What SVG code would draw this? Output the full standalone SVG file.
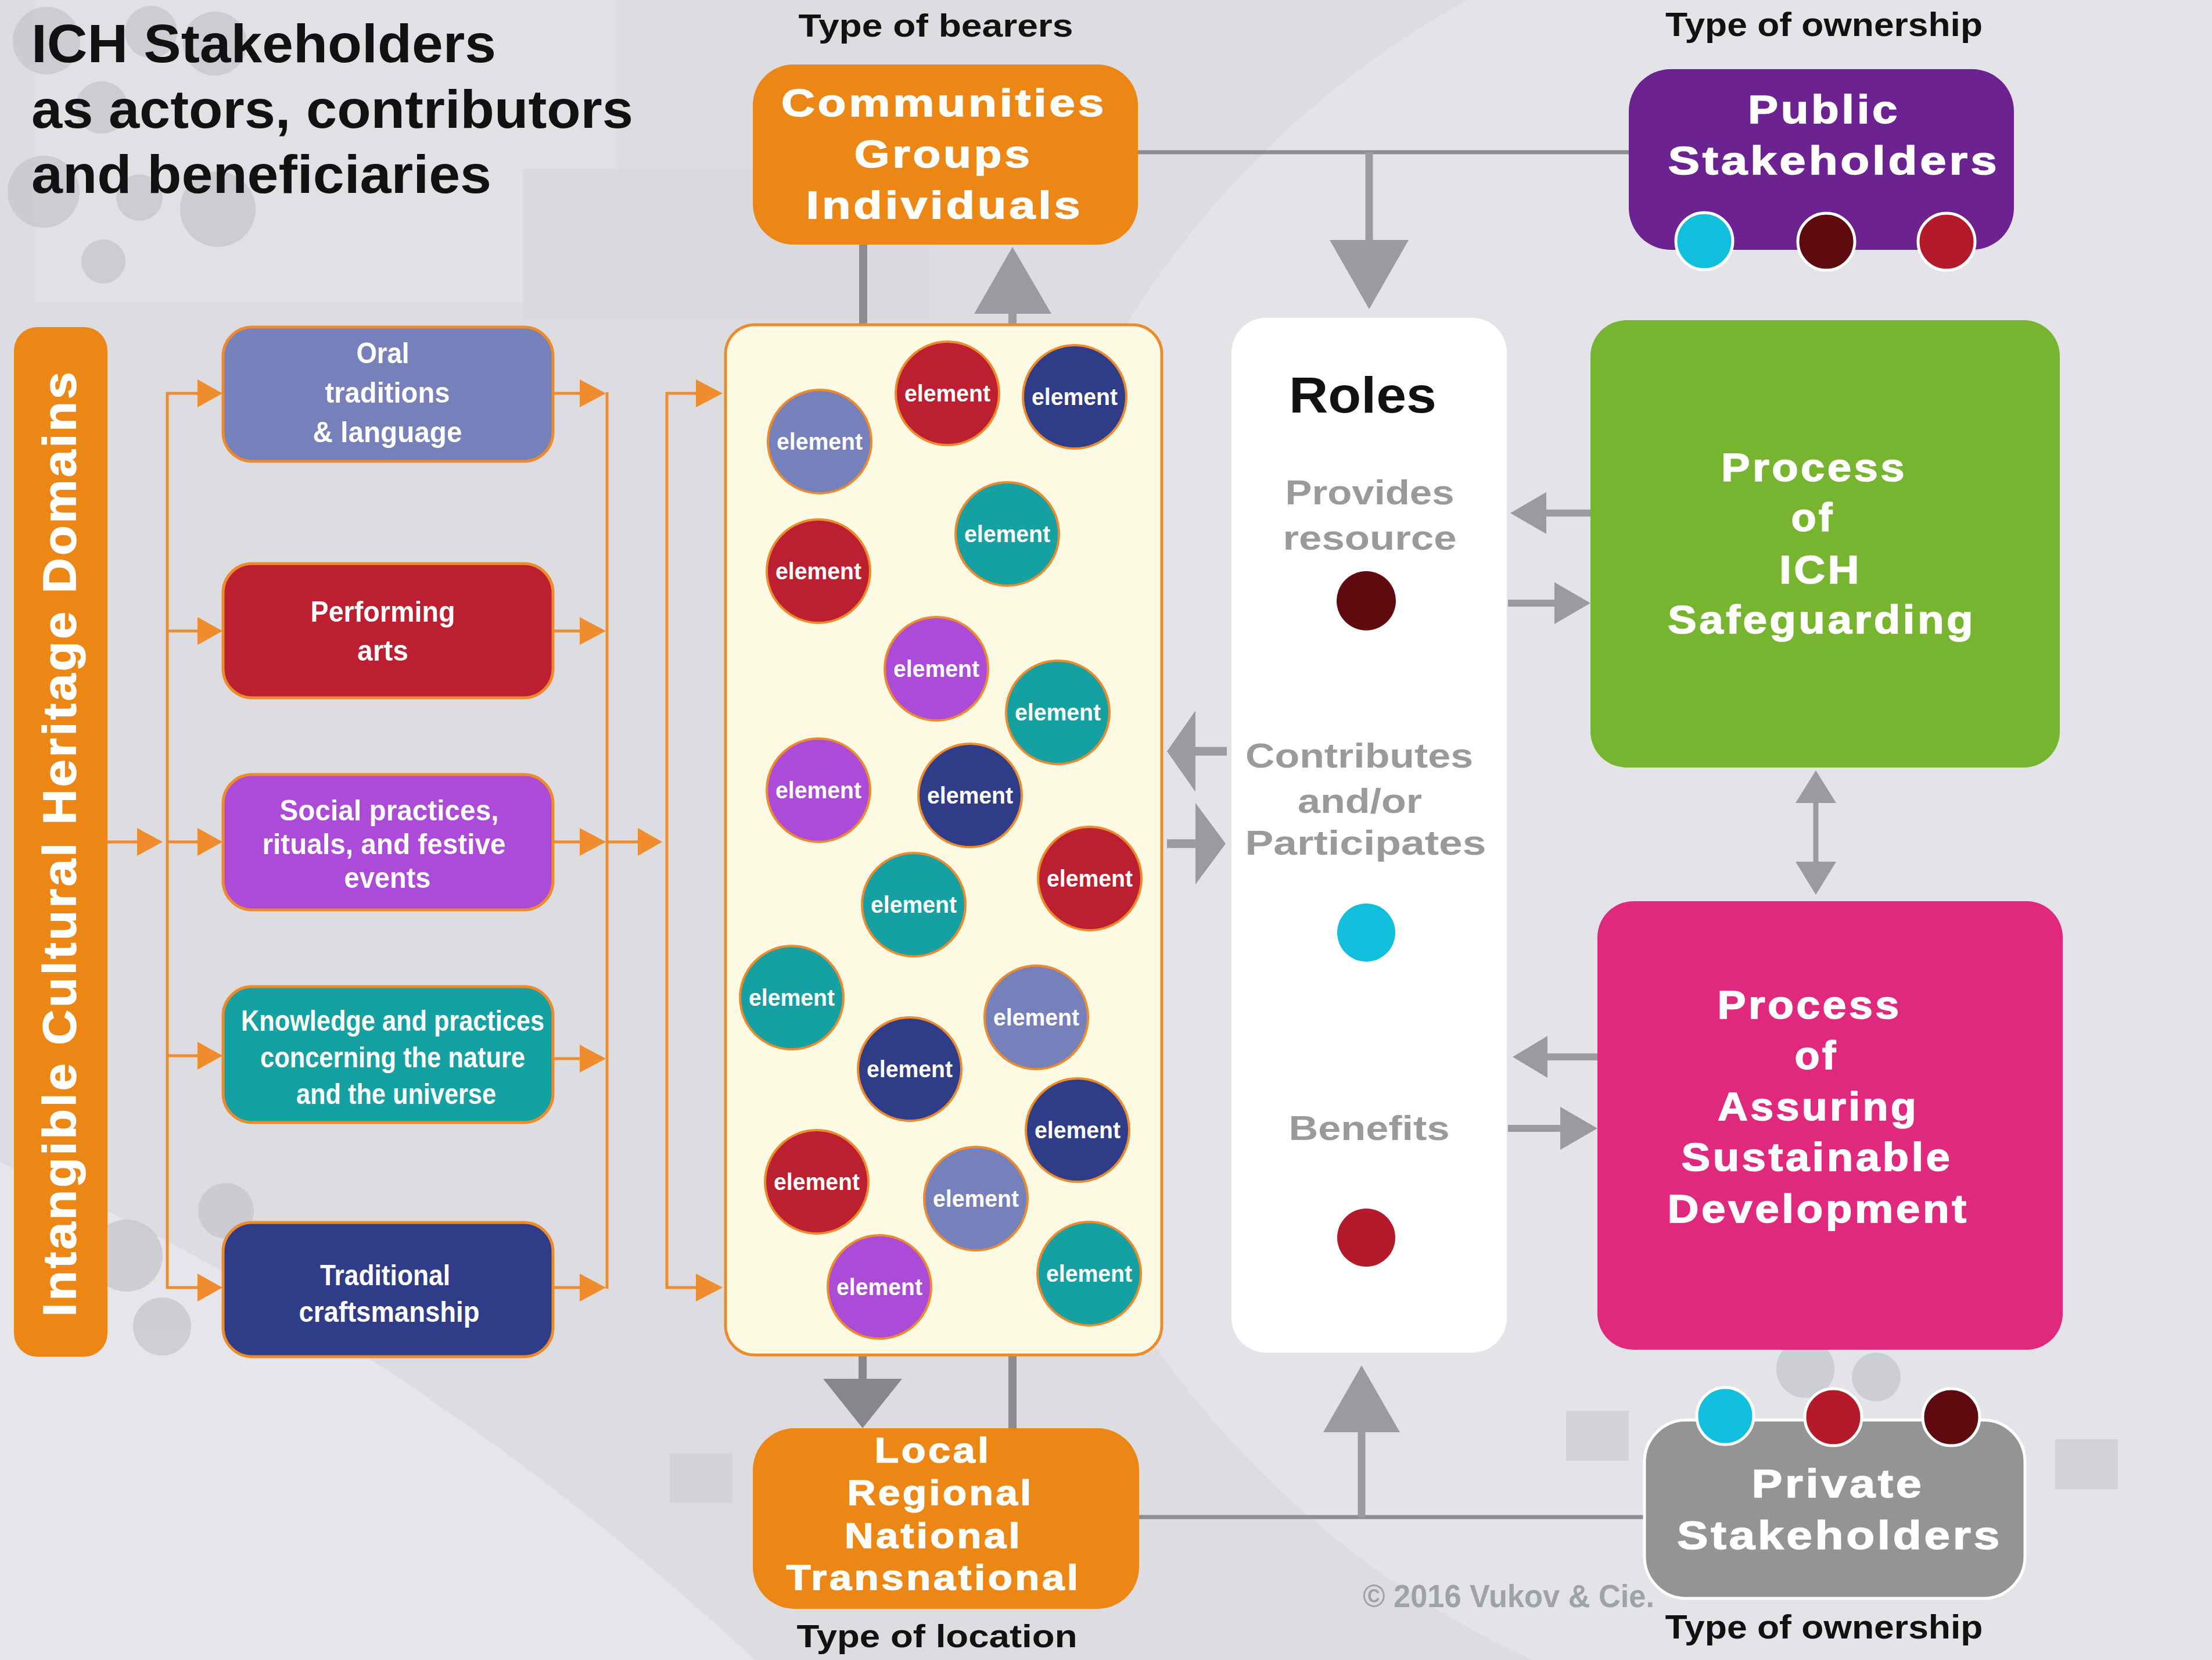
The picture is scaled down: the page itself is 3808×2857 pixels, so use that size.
<svg xmlns="http://www.w3.org/2000/svg" width="3808" height="2857" viewBox="0 0 3808 2857">
<style>
.cond{font-family:"Liberation Sans Narrow","Liberation Sans",Arial,sans-serif;font-weight:bold}
.wide{font-family:"Liberation Sans",Arial,sans-serif;font-weight:bold}
.big{font-family:"Liberation Sans",Arial,sans-serif;font-weight:bold;letter-spacing:4px;stroke:#ffffff;stroke-width:1.5px}
.wt{fill:#ffffff}
.blk{fill:#111111}
.gt{fill:#9a9a9a}
.dom{stroke:#ef8a2a;stroke-width:5}
.ol{stroke:#ef8d2e;stroke-width:5;fill:none}
.oh{fill:#ef8d2e}
.gl{stroke:#9b9b9f;fill:none}
.gh{fill:#9b9b9f}
.el circle{stroke:#ee8a2c;stroke-width:4}
.el text{font-family:"Liberation Sans",Arial,sans-serif;font-weight:bold;font-size:40px;fill:#ffffff;text-anchor:middle}
.dot{stroke:#ffffff;stroke-width:5}
</style>
<g id="background">
<rect x="0" y="0" width="3808" height="2857" fill="#dddde1"/>
<circle cx="3300" cy="1400" r="1600" fill="#e4e4e8"/>
<path d="M0 2000 Q700 2300 1300 2857 L0 2857 Z" fill="#e6e6ea"/>
<rect x="60" y="0" width="1000" height="520" fill="#e3e3e7" opacity="0.6"/>
<rect x="900" y="290" width="700" height="260" fill="#d9d9dd" opacity="0.7"/>
<g fill="#c5c7cd" opacity="0.75">
<circle cx="80" cy="70" r="58"/>
<circle cx="260" cy="55" r="45"/>
<circle cx="370" cy="75" r="55"/>
<circle cx="175" cy="185" r="45"/>
<circle cx="75" cy="330" r="62"/>
<circle cx="375" cy="360" r="65"/>
<circle cx="178" cy="450" r="38"/>
<circle cx="240" cy="340" r="40"/>
<circle cx="389" cy="2084" r="48"/>
<circle cx="218" cy="2161" r="62"/>
<circle cx="279" cy="2283" r="50"/>
<circle cx="3108" cy="2356" r="50"/>
<circle cx="3230" cy="2370" r="42"/>
</g>
<g fill="#d3d2d6">
<rect x="2696" y="2428" width="108" height="86"/>
<rect x="3538" y="2477" width="108" height="86"/>
<rect x="1153" y="2501" width="108" height="86"/>
</g>
</g>

<g id="title">
<text class="wide blk" font-size="92" x="54" y="107" textLength="800" lengthAdjust="spacingAndGlyphs">ICH Stakeholders</text>
<text class="wide blk" font-size="92" x="54" y="220" textLength="1036" lengthAdjust="spacingAndGlyphs">as actors, contributors</text>
<text class="wide blk" font-size="92" x="54" y="332" textLength="792" lengthAdjust="spacingAndGlyphs">and beneficiaries</text>
</g>

<g id="connectors">
<line class="ol" x1="184" y1="1449" x2="240" y2="1449"/>
<polygon class="oh" points="236,1425 280,1449 236,1473"/>
<line class="ol" x1="288" y1="675" x2="288" y2="2218"/>
<line class="ol" x1="286" y1="677" x2="342" y2="677"/>
<polygon class="oh" points="340,653 383,677 340,701"/>
<line class="ol" x1="288" y1="1086" x2="342" y2="1086"/>
<polygon class="oh" points="340,1062 383,1086 340,1110"/>
<line class="ol" x1="288" y1="1449" x2="342" y2="1449"/>
<polygon class="oh" points="340,1425 383,1449 340,1473"/>
<line class="ol" x1="288" y1="1817" x2="342" y2="1817"/>
<polygon class="oh" points="340,1793 383,1817 340,1841"/>
<line class="ol" x1="286" y1="2216" x2="342" y2="2216"/>
<polygon class="oh" points="340,2192 383,2216 340,2240"/>

<line class="ol" x1="1045" y1="675" x2="1045" y2="2218"/>
<line class="ol" x1="952" y1="677" x2="1000" y2="677"/>
<polygon class="oh" points="998,653 1043,677 998,701"/>
<line class="ol" x1="952" y1="1086" x2="1000" y2="1086"/>
<polygon class="oh" points="998,1062 1043,1086 998,1110"/>
<line class="ol" x1="952" y1="1449" x2="1000" y2="1449"/>
<polygon class="oh" points="998,1425 1043,1449 998,1473"/>
<line class="ol" x1="952" y1="1822" x2="1000" y2="1822"/>
<polygon class="oh" points="998,1798 1043,1822 998,1846"/>
<line class="ol" x1="952" y1="2216" x2="1000" y2="2216"/>
<polygon class="oh" points="998,2192 1043,2216 998,2240"/>

<line class="ol" x1="1045" y1="1449" x2="1100" y2="1449"/>
<polygon class="oh" points="1098,1425 1140,1449 1098,1473"/>
<line class="ol" x1="1148" y1="675" x2="1148" y2="2218"/>
<line class="ol" x1="1146" y1="677" x2="1200" y2="677"/>
<polygon class="oh" points="1198,653 1244,677 1198,701"/>
<line class="ol" x1="1146" y1="2216" x2="1200" y2="2216"/>
<polygon class="oh" points="1198,2192 1244,2216 1198,2240"/>

<line x1="1486" y1="421" x2="1486" y2="559" stroke="#8c8c90" stroke-width="14"/>
<line class="gl" x1="1743" y1="559" x2="1743" y2="536" stroke-width="14"/>
<polygon class="gh" points="1677,540 1743,425 1810,540"/>
<line x1="1959" y1="262" x2="2805" y2="262" stroke="#8e8e92" stroke-width="7"/>
<line class="gl" x1="2357" y1="262" x2="2357" y2="416" stroke-width="13"/>
<polygon class="gh" points="2289,413 2357,532 2425,413"/>

<line class="gl" x1="2112" y1="1293" x2="2056" y2="1293" stroke-width="15"/>
<polygon class="gh" points="2058,1223 2009,1293 2058,1363"/>
<line class="gl" x1="2009" y1="1452" x2="2060" y2="1452" stroke-width="15"/>
<polygon class="gh" points="2058,1382 2110,1452 2058,1522"/>

<line class="gl" x1="2738" y1="883" x2="2660" y2="883" stroke-width="12"/>
<polygon class="gh" points="2662,847 2600,883 2662,919"/>
<line class="gl" x1="2596" y1="1038" x2="2678" y2="1038" stroke-width="12"/>
<polygon class="gh" points="2676,1002 2738,1038 2676,1074"/>

<line class="gl" x1="3126" y1="1378" x2="3126" y2="1486" stroke-width="9"/>
<polygon class="gh" points="3091,1382 3126,1326 3161,1382"/>
<polygon class="gh" points="3091,1483 3126,1540 3161,1483"/>

<line class="gl" x1="2750" y1="1819" x2="2662" y2="1819" stroke-width="12"/>
<polygon class="gh" points="2664,1783 2604,1819 2664,1855"/>
<line class="gl" x1="2596" y1="1942" x2="2690" y2="1942" stroke-width="12"/>
<polygon class="gh" points="2686,1905 2750,1942 2686,1979"/>

<line x1="1485" y1="2332" x2="1485" y2="2376" stroke="#86868b" stroke-width="14"/>
<polygon fill="#86868b" points="1417,2373 1485,2458 1553,2373"/>
<line x1="1743" y1="2332" x2="1743" y2="2458" stroke="#8c8c90" stroke-width="14"/>
<line x1="1961" y1="2611" x2="2831" y2="2611" stroke="#8e8e92" stroke-width="7"/>
<line class="gl" x1="2344" y1="2611" x2="2344" y2="2462" stroke-width="13"/>
<polygon class="gh" points="2278,2465 2344,2350 2410,2465"/>
</g>

<g id="domains-bar">
<rect x="24" y="563" width="161" height="1772" rx="40" fill="#ec8614"/>
<text class="big wt" font-size="80" transform="translate(130,1451) rotate(-90)" text-anchor="middle" textLength="1630" lengthAdjust="spacingAndGlyphs">Intangible Cultural Heritage Domains</text>
</g>

<g id="oral">
<rect class="dom" x="384" y="563" width="568" height="231" rx="50" fill="#7680ba"/>
<g class="cond wt" font-size="50" text-anchor="middle">
<text x="659" y="625" textLength="91" lengthAdjust="spacingAndGlyphs">Oral</text>
<text x="667" y="693" textLength="215" lengthAdjust="spacingAndGlyphs">traditions</text>
<text x="667" y="761" textLength="257" lengthAdjust="spacingAndGlyphs">&amp; language</text>
</g>
</g>
<g id="performing">
<rect class="dom" x="384" y="970" width="568" height="231" rx="50" fill="#bc1f2f"/>
<g class="cond wt" font-size="50" text-anchor="middle">
<text x="659" y="1070" textLength="249" lengthAdjust="spacingAndGlyphs">Performing</text>
<text x="659" y="1137" textLength="88" lengthAdjust="spacingAndGlyphs">arts</text>
</g>
</g>
<g id="social">
<rect class="dom" x="384" y="1333" width="568" height="233" rx="50" fill="#ab4bd8"/>
<g class="cond wt" font-size="50" text-anchor="middle">
<text x="670" y="1412" textLength="377" lengthAdjust="spacingAndGlyphs">Social practices,</text>
<text x="661" y="1470" textLength="419" lengthAdjust="spacingAndGlyphs">rituals, and festive</text>
<text x="667" y="1528" textLength="149" lengthAdjust="spacingAndGlyphs">events</text>
</g>
</g>
<g id="knowledge">
<rect class="dom" x="384" y="1698" width="568" height="234" rx="50" fill="#15a0a2"/>
<g class="cond wt" font-size="50" text-anchor="middle">
<text x="676" y="1774" textLength="522" lengthAdjust="spacingAndGlyphs">Knowledge and practices</text>
<text x="676" y="1837" textLength="456" lengthAdjust="spacingAndGlyphs">concerning the nature</text>
<text x="682" y="1900" textLength="344" lengthAdjust="spacingAndGlyphs">and the universe</text>
</g>
</g>
<g id="craftsmanship">
<rect class="dom" x="384" y="2104" width="568" height="231" rx="50" fill="#2f3c88"/>
<g class="cond wt" font-size="50" text-anchor="middle">
<text x="663" y="2212" textLength="224" lengthAdjust="spacingAndGlyphs">Traditional</text>
<text x="670" y="2275" textLength="311" lengthAdjust="spacingAndGlyphs">craftsmanship</text>
</g>
</g>

<g id="elements">
<rect x="1249" y="559" width="751" height="1773" rx="50" fill="#fefbe4" stroke="#ef8a2a" stroke-width="5"/>
<g class="el"><circle cx="1631" cy="677" r="89" fill="#bc1f2f"/><text x="1631" y="691" textLength="148" lengthAdjust="spacingAndGlyphs">element</text></g>
<g class="el"><circle cx="1850" cy="683" r="89" fill="#2f3c88"/><text x="1850" y="697" textLength="148" lengthAdjust="spacingAndGlyphs">element</text></g>
<g class="el"><circle cx="1411" cy="760" r="89" fill="#7680ba"/><text x="1411" y="774" textLength="148" lengthAdjust="spacingAndGlyphs">element</text></g>
<g class="el"><circle cx="1734" cy="919" r="89" fill="#15a0a2"/><text x="1734" y="933" textLength="148" lengthAdjust="spacingAndGlyphs">element</text></g>
<g class="el"><circle cx="1409" cy="983" r="89" fill="#bc1f2f"/><text x="1409" y="997" textLength="148" lengthAdjust="spacingAndGlyphs">element</text></g>
<g class="el"><circle cx="1612" cy="1151" r="89" fill="#ab4bd8"/><text x="1612" y="1165" textLength="148" lengthAdjust="spacingAndGlyphs">element</text></g>
<g class="el"><circle cx="1821" cy="1226" r="89" fill="#15a0a2"/><text x="1821" y="1240" textLength="148" lengthAdjust="spacingAndGlyphs">element</text></g>
<g class="el"><circle cx="1409" cy="1360" r="89" fill="#ab4bd8"/><text x="1409" y="1374" textLength="148" lengthAdjust="spacingAndGlyphs">element</text></g>
<g class="el"><circle cx="1670" cy="1369" r="89" fill="#2f3c88"/><text x="1670" y="1383" textLength="148" lengthAdjust="spacingAndGlyphs">element</text></g>
<g class="el"><circle cx="1876" cy="1512" r="89" fill="#bc1f2f"/><text x="1876" y="1526" textLength="148" lengthAdjust="spacingAndGlyphs">element</text></g>
<g class="el"><circle cx="1573" cy="1557" r="89" fill="#15a0a2"/><text x="1573" y="1571" textLength="148" lengthAdjust="spacingAndGlyphs">element</text></g>
<g class="el"><circle cx="1363" cy="1717" r="89" fill="#15a0a2"/><text x="1363" y="1731" textLength="148" lengthAdjust="spacingAndGlyphs">element</text></g>
<g class="el"><circle cx="1784" cy="1751" r="89" fill="#7680ba"/><text x="1784" y="1765" textLength="148" lengthAdjust="spacingAndGlyphs">element</text></g>
<g class="el"><circle cx="1566" cy="1840" r="89" fill="#2f3c88"/><text x="1566" y="1854" textLength="148" lengthAdjust="spacingAndGlyphs">element</text></g>
<g class="el"><circle cx="1855" cy="1945" r="89" fill="#2f3c88"/><text x="1855" y="1959" textLength="148" lengthAdjust="spacingAndGlyphs">element</text></g>
<g class="el"><circle cx="1406" cy="2034" r="89" fill="#bc1f2f"/><text x="1406" y="2048" textLength="148" lengthAdjust="spacingAndGlyphs">element</text></g>
<g class="el"><circle cx="1680" cy="2063" r="89" fill="#7680ba"/><text x="1680" y="2077" textLength="148" lengthAdjust="spacingAndGlyphs">element</text></g>
<g class="el"><circle cx="1514" cy="2215" r="89" fill="#ab4bd8"/><text x="1514" y="2229" textLength="148" lengthAdjust="spacingAndGlyphs">element</text></g>
<g class="el"><circle cx="1875" cy="2192" r="89" fill="#15a0a2"/><text x="1875" y="2206" textLength="148" lengthAdjust="spacingAndGlyphs">element</text></g>
</g>

<g id="bearers">
<text class="cond blk" font-size="56" x="1611" y="63" text-anchor="middle" textLength="473" lengthAdjust="spacingAndGlyphs">Type of bearers</text>
<rect x="1296" y="111" width="663" height="310" rx="70" fill="#ec8614"/>
<g class="big wt" font-size="66" text-anchor="middle">
<text x="1625" y="200" textLength="560" lengthAdjust="spacingAndGlyphs">Communities</text>
<text x="1624" y="288" textLength="307" lengthAdjust="spacingAndGlyphs">Groups</text>
<text x="1626" y="376" textLength="477" lengthAdjust="spacingAndGlyphs">Individuals</text>
</g>
</g>

<g id="public">
<text class="cond blk" font-size="58" x="3140" y="62" text-anchor="middle" textLength="546" lengthAdjust="spacingAndGlyphs">Type of ownership</text>
<rect x="2804" y="119" width="663" height="311" rx="72" fill="#6c2290"/>
<g class="big wt" font-size="68" text-anchor="middle">
<text x="3140" y="212" textLength="262" lengthAdjust="spacingAndGlyphs">Public</text>
<text x="3157" y="300" textLength="571" lengthAdjust="spacingAndGlyphs">Stakeholders</text>
</g>
<circle class="dot" cx="2934" cy="415" r="49" fill="#10bfdb"/>
<circle class="dot" cx="3144" cy="416" r="49" fill="#5e0a0e"/>
<circle class="dot" cx="3351" cy="416" r="49" fill="#b51a2b"/>
</g>

<g id="roles">
<rect x="2120" y="547" width="474" height="1781" rx="60" fill="#ffffff"/>
<text class="wide blk" font-size="88" x="2346" y="710" text-anchor="middle" textLength="254" lengthAdjust="spacingAndGlyphs">Roles</text>
<g class="cond gt" font-size="60" text-anchor="middle">
<text x="2358" y="868" textLength="291" lengthAdjust="spacingAndGlyphs">Provides</text>
<text x="2358" y="946" textLength="299" lengthAdjust="spacingAndGlyphs">resource</text>
<text x="2340" y="1321" textLength="392" lengthAdjust="spacingAndGlyphs">Contributes</text>
<text x="2341" y="1399" textLength="214" lengthAdjust="spacingAndGlyphs">and/or</text>
<text x="2351" y="1471" textLength="415" lengthAdjust="spacingAndGlyphs">Participates</text>
<text x="2357" y="1962" textLength="277" lengthAdjust="spacingAndGlyphs">Benefits</text>
</g>
<circle cx="2352" cy="1034" r="51" fill="#5e0a0e"/>
<circle cx="2352" cy="1605" r="50" fill="#10bfdb"/>
<circle cx="2352" cy="2130" r="50" fill="#b51a2b"/>
</g>

<g id="safeguarding">
<rect x="2738" y="551" width="808" height="770" rx="62" fill="#77b42f"/>
<g class="big wt" font-size="68" text-anchor="middle">
<text x="3123" y="828" textLength="320" lengthAdjust="spacingAndGlyphs">Process</text>
<text x="3121" y="914" textLength="75" lengthAdjust="spacingAndGlyphs">of</text>
<text x="3134" y="1004" textLength="142" lengthAdjust="spacingAndGlyphs">ICH</text>
<text x="3136" y="1090" textLength="530" lengthAdjust="spacingAndGlyphs">Safeguarding</text>
</g>
</g>

<g id="sustainable">
<rect x="2750" y="1551" width="801" height="772" rx="62" fill="#e0297c"/>
<g class="big wt" font-size="68" text-anchor="middle">
<text x="3115" y="1753" textLength="317" lengthAdjust="spacingAndGlyphs">Process</text>
<text x="3127" y="1840" textLength="75" lengthAdjust="spacingAndGlyphs">of</text>
<text x="3130" y="1928" textLength="346" lengthAdjust="spacingAndGlyphs">Assuring</text>
<text x="3128" y="2015" textLength="467" lengthAdjust="spacingAndGlyphs">Sustainable</text>
<text x="3130" y="2104" textLength="519" lengthAdjust="spacingAndGlyphs">Development</text>
</g>
</g>

<g id="location">
<rect x="1296" y="2458" width="665" height="311" rx="72" fill="#ec8614"/>
<g class="big wt" font-size="62" text-anchor="middle">
<text x="1606" y="2517" textLength="201" lengthAdjust="spacingAndGlyphs">Local</text>
<text x="1619" y="2590" textLength="321" lengthAdjust="spacingAndGlyphs">Regional</text>
<text x="1607" y="2664" textLength="306" lengthAdjust="spacingAndGlyphs">National</text>
<text x="1607" y="2736" textLength="507" lengthAdjust="spacingAndGlyphs">Transnational</text>
</g>
<text class="cond blk" font-size="56" x="1613" y="2835" text-anchor="middle" textLength="483" lengthAdjust="spacingAndGlyphs">Type of location</text>
</g>

<g id="private">
<rect x="2831" y="2444" width="655" height="307" rx="72" fill="#949494" stroke="#ffffff" stroke-width="5"/>
<g class="big wt" font-size="68" text-anchor="middle">
<text x="3164" y="2577" textLength="297" lengthAdjust="spacingAndGlyphs">Private</text>
<text x="3167" y="2666" textLength="560" lengthAdjust="spacingAndGlyphs">Stakeholders</text>
</g>
<circle class="dot" cx="2970" cy="2437" r="49" fill="#10bfdb"/>
<circle class="dot" cx="3156" cy="2439" r="49" fill="#b51a2b"/>
<circle class="dot" cx="3359" cy="2439" r="49" fill="#5e0a0e"/>
<text class="cond blk" font-size="58" x="3140" y="2820" text-anchor="middle" textLength="547" lengthAdjust="spacingAndGlyphs">Type of ownership</text>
</g>

<g id="copyright">
<text class="cond" font-size="56" x="2346" y="2766" fill="#9ea3a8" textLength="502" lengthAdjust="spacingAndGlyphs">© 2016  Vukov &amp; Cie.</text>
</g>
</svg>
